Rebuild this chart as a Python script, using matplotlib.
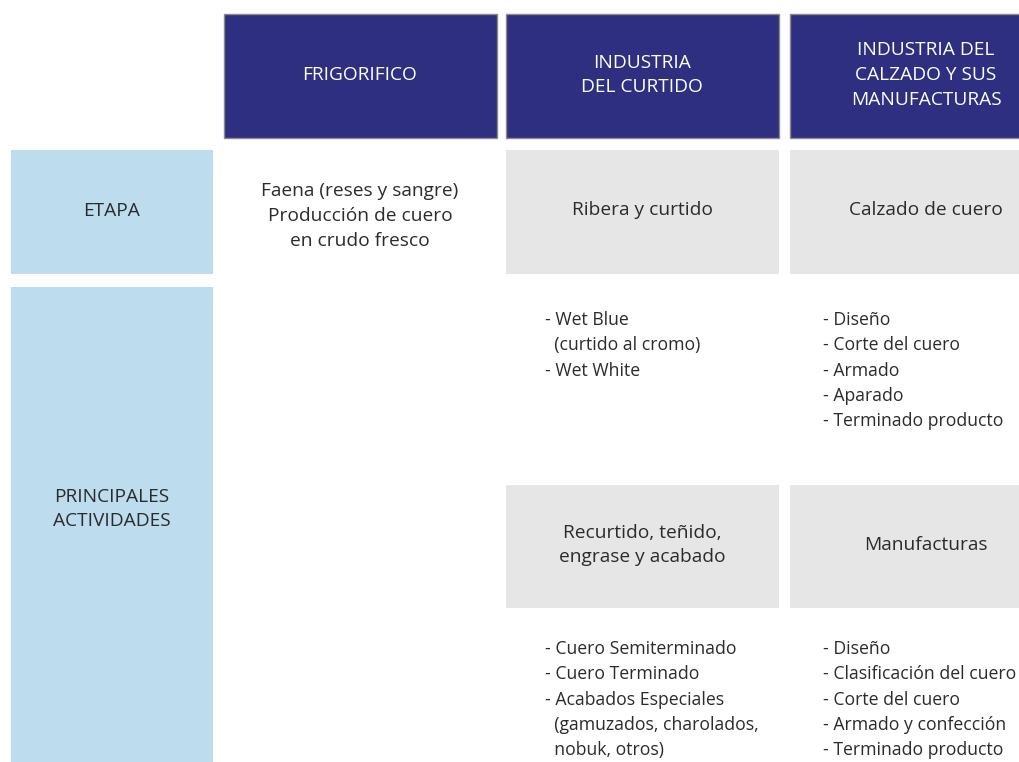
import matplotlib.pyplot as plt
from matplotlib.patches import Rectangle

plt.rcParams['font.family'] = ['Open Sans', 'DejaVu Sans']

navy = '#2e2f80'
light_blue = '#bddcee'
grey = '#e6e6e6'
txt = '#2b2b2b'

headers = ['FRIGORIFICO', 'INDUSTRIA\nDEL CURTIDO', 'INDUSTRIA DEL\nCALZADO Y SUS\nMANUFACTURAS']
row_labels = ['ETAPA', 'PRINCIPALES\nACTIVIDADES']
etapa = ['Faena (reses y sangre)\nProducción de cuero\nen crudo fresco',
         'Ribera y curtido', 'Calzado de cuero']
sub_etapa = ['Recurtido, teñido,\nengrase y acabado', 'Manufacturas']
act_top = [['- Wet Blue', '  (curtido al cromo)', '- Wet White'],
           ['- Diseño', '- Corte del cuero', '- Armado', '- Aparado', '- Terminado producto']]
act_bottom = [['- Cuero Semiterminado', '- Cuero Terminado', '- Acabados Especiales',
               '  (gamuzados, charolados,', '  nobuk, otros)'],
              ['- Diseño', '- Clasificación del cuero', '- Corte del cuero',
               '- Armado y confección', '- Terminado producto']]

fig = plt.figure(figsize=(10.19, 7.62), dpi=100)
ax = fig.add_axes([0, 0, 1, 1])
ax.set_xlim(0, 1019)
ax.set_ylim(762, 0)
ax.axis('off')

col_x = [224, 506, 790]
col_w = 273
col_cx = [360, 642, 926]
fs = 13.8

def box(x, y, w, h, fc, ec='none'):
    ax.add_patch(Rectangle((x, y), w, h, facecolor=fc, edgecolor=ec, lw=1))

# header row
for x, cx, h in zip(col_x, col_cx, headers):
    box(x, 14, col_w, 124, navy, ec='#8a8a8a')
    ax.text(cx, 75, h, color='white', fontsize=fs, ha='center', va='center',
            linespacing=1.5)

# row labels
box(11, 150, 202, 124, light_blue)
box(11, 287, 202, 480, light_blue)
ax.text(112, 211, row_labels[0], color=txt, fontsize=fs, ha='center', va='center')
ax.text(112, 509, row_labels[1], color=txt, fontsize=fs, ha='center', va='center',
        linespacing=1.5)

# etapa row
ax.text(col_cx[0], 216, etapa[0], color=txt, fontsize=fs, ha='center', va='center',
        linespacing=1.5)
for i in (1, 2):
    box(col_x[i], 150, col_w, 124, grey)
    ax.text(col_cx[i], 210, etapa[i], color=txt, fontsize=fs, ha='center', va='center')

# second stage boxes
for i, s in zip((1, 2), sub_etapa):
    box(col_x[i], 485, col_w, 123, grey)
    ax.text(col_cx[i], 545, s, color=txt, fontsize=fs, ha='center', va='center',
            linespacing=1.5)

# activity lists
list_x = [545, 823]
for lines, y0 in ((act_top, 320), (act_bottom, 649)):
    for lx, items in zip(list_x, lines):
        for k, t in enumerate(items):
            ax.text(lx, y0 + k * 25.3, t, color=txt, fontsize=12.7, ha='left', va='center')

fig.savefig('out.png', dpi=100, facecolor='white')
